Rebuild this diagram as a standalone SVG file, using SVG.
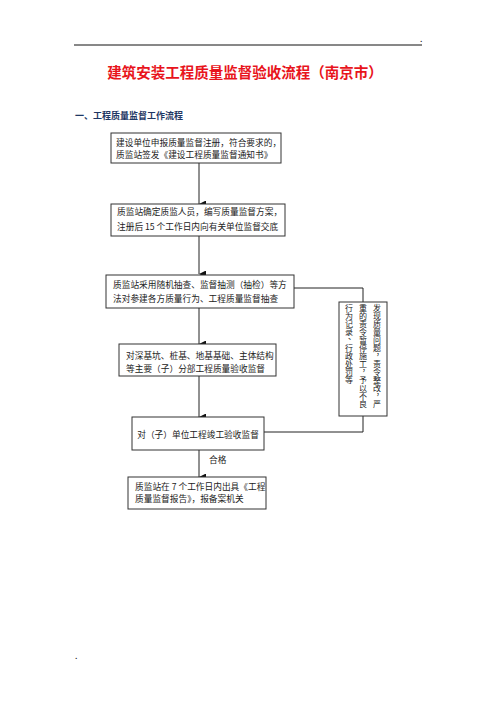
<svg xmlns="http://www.w3.org/2000/svg" width="496" height="702" viewBox="0 0 496 702">
<style>
.bx{fill:#fff;stroke:#333;stroke-width:1}
.t{font-family:"Noto Sans CJK SC","Noto Sans CJK JP",sans-serif;font-size:8.7px;fill:#222}
.ln{fill:none;stroke:#222;stroke-width:1}
.v{font-family:"Noto Sans CJK SC",sans-serif;font-size:8px;fill:#222;text-anchor:middle}
</style>
<defs>
<marker id="ah" markerWidth="7" markerHeight="7" refX="3.5" refY="7" orient="auto-start-reverse" markerUnits="userSpaceOnUse" viewBox="0 0 7 7">
<path d="M0,0 L7,0 L3.5,7 Z" fill="#111"/>
</marker>
</defs>
<rect width="496" height="702" fill="#fff"/>
<line x1="74" y1="45" x2="422" y2="45" stroke="#111" stroke-width="1"/>
<text x="420" y="42" class="t" font-size="5px">.</text>
<text x="245" y="78" text-anchor="middle" style="font-family:'Noto Sans CJK SC',sans-serif;font-size:14.5px;font-weight:bold;fill:#e8141c">建筑安装工程质量监督验收流程（南京市）</text>
<text x="75" y="119" style="font-family:'Noto Sans CJK SC',sans-serif;font-size:9px;font-weight:bold;fill:#1f3864">一、工程质量监督工作流程</text>
<g id="connectors">
<line class="ln" x1="199" y1="163" x2="199" y2="204" marker-end="url(#ah)"/>
<line class="ln" x1="199" y1="236" x2="199" y2="274" marker-end="url(#ah)"/>
<line class="ln" x1="199" y1="308" x2="199" y2="344" marker-end="url(#ah)"/>
<line class="ln" x1="199" y1="376" x2="199" y2="417" marker-end="url(#ah)"/>
<line class="ln" x1="199" y1="450" x2="199" y2="477" marker-end="url(#ah)"/>
<polyline class="ln" points="294,288 363,288 363,302"/>
<polyline class="ln" points="363,416 363,432 264,432"/>
<text x="209" y="463" class="t">合格</text>
</g>
<g id="n1">
<rect class="bx" x="111" y="133" width="170" height="30"/>
<text x="116" y="146" class="t">建设单位申报质量监督注册，符合要求的，</text>
<text x="116" y="158" class="t">质监站签发《建设工程质量监督通知书》</text>
</g>
<g id="n2">
<rect class="bx" x="111" y="204" width="174" height="32"/>
<text x="117" y="215" class="t">质监站确定质监人员，编写质量监督方案，</text>
<text x="117" y="230" class="t">注册后 15 个工作日内向有关单位监督交底</text>
</g>
<g id="n3">
<rect class="bx" x="106" y="275" width="188" height="33"/>
<text x="113" y="288" class="t">质监站采用随机抽查、监督抽测（抽检）等方</text>
<text x="113" y="302" class="t">法对参建各方质量行为、工程质量监督抽查</text>
</g>
<g id="n4">
<rect class="bx" x="119" y="344" width="157" height="32"/>
<text x="126" y="359" class="t">对深基坑、桩基、地基基础、主体结构</text>
<text x="126" y="372" class="t">等主要（子）分部工程质量验收监督</text>
</g>
<g id="n5">
<rect class="bx" x="132" y="417" width="132" height="33"/>
<text x="198" y="438" text-anchor="middle" class="t" font-size="8.4px">对（子）单位工程竣工验收监督</text>
</g>
<g id="n6">
<rect class="bx" x="128" y="477" width="138" height="32"/>
<text x="135" y="490" class="t">质监站在 7 个工作日内出具《工程</text>
<text x="135" y="502" class="t">质量监督报告》，报备案机关</text>
</g>
<g id="n7">
<rect class="bx" x="339" y="302" width="48" height="114"/>
<text class="v" x="377 377 377 377 377 377 380 377 377 377 377 380 377" y="311 319 327 335 343 351 355 367 375 383 391 395 407">发现质量问题，责令整改，严</text>
<text class="v" x="363 363 363 363 363 363 363 363 366 363 363 363 363" y="311 319 327 335 343 351 359 367 371 383 391 399 407">重的责令暂停施工，予以不良</text>
<text class="v" x="349 349 349 349 352 349 349 349 349 349" y="311 319 327 335 339 351 359 367 375 383">行为记录、行政处罚等</text>
</g>
<text x="75" y="659" class="t" font-size="5px">.</text>
</svg>
